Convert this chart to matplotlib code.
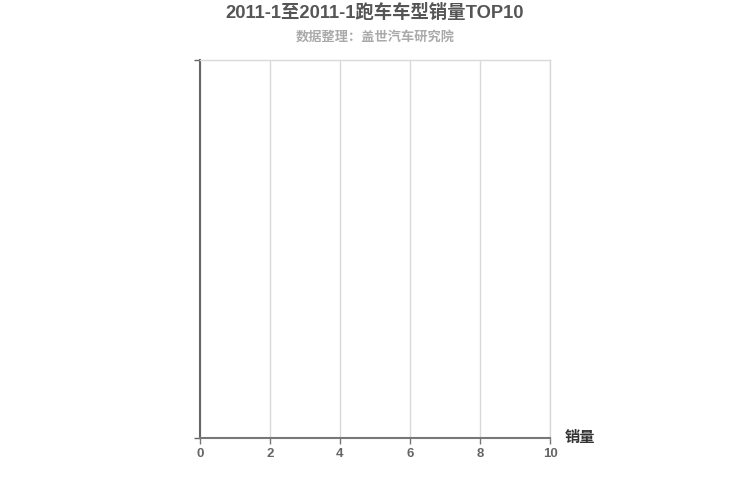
import matplotlib
matplotlib.use("Agg")
import matplotlib.pyplot as plt

plt.rcParams['font.family'] = ['Liberation Sans', 'Noto Sans CJK SC', 'DejaVu Sans']

# 数据（本期无数据）
models = []
sales = []
x_ticks = [0, 2, 4, 6, 8, 10]

title = "2011-1至2011-1跑车车型销量TOP10"
subtitle = "数据整理：盖世汽车研究院"

fig = plt.figure(figsize=(7.5, 5), dpi=100)
ax = fig.add_axes([200 / 750, 1 - 438 / 500, 350 / 750, 378 / 500])

ax.barh(models, sales, color="#c23531")

ax.set_xlim(0, 10)
ax.set_ylim(0, 1)
ax.set_xticks(x_ticks)
ax.set_yticks([0, 1])
ax.set_yticklabels([])
ax.xaxis.grid(True, color="#d9d9d9", linewidth=1)
ax.set_axisbelow(True)

for side in ["top", "right"]:
    ax.spines[side].set_color("#d9d9d9")
    ax.spines[side].set_linewidth(1)
ax.spines["left"].set_color("#666666")
ax.spines["left"].set_linewidth(1.5)
ax.spines["bottom"].set_color("#777777")
ax.spines["bottom"].set_linewidth(1.5)

ax.tick_params(axis="x", colors="#777777", labelcolor="#666666", length=4,
               width=1, labelsize=9.5, pad=3)
ax.tick_params(axis="y", colors="#666666", length=4, width=1)
for lab in ax.get_xticklabels():
    lab.set_fontweight("bold")

fig.text(0.5, 1 - 13 / 500, title, ha="center", va="center",
         fontsize=13.2, fontweight="bold", color="#555555")
fig.text(0.5, 1 - 38 / 500, subtitle, ha="center", va="center",
         fontsize=9.5, fontweight="bold", color="#aaaaaa")
fig.text(565 / 750, 1 - 438 / 500, "销量", ha="left", va="center",
         fontsize=11, fontweight="bold", color="#333333")

fig.savefig("out.png", dpi=100, facecolor="white")
